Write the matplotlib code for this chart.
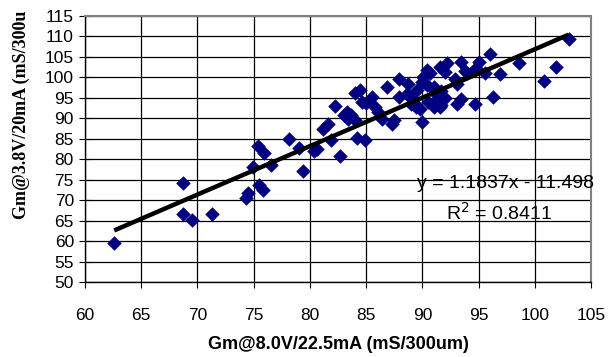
import matplotlib
matplotlib.use("Agg")
import matplotlib.pyplot as plt
import numpy as np

# Gm values (mS/300um)
gm_8v = [62.6, 68.7, 68.7, 69.5, 71.3, 74.3, 74.5, 74.9, 75.5, 75.8,
         75.4, 75.9, 76.5, 78.1, 79.0, 79.4, 80.4, 80.6, 81.2, 81.6,
         81.9, 82.2, 82.7, 83.0, 83.3, 83.4, 83.7, 84.0, 84.0, 84.5,
         84.6, 84.2, 84.9, 85.5, 85.8, 86.1, 86.4, 87.3, 87.5, 86.9,
         87.9, 88.7, 87.9, 88.9, 89.2, 89.4, 89.8, 90.0, 89.5, 90.1,
         90.4, 90.7, 90.4, 91.0, 90.0, 91.0, 91.3, 91.3, 91.7, 90.5,
         91.6, 91.1, 91.0, 91.6, 92.0, 92.2, 91.7, 92.9, 93.1, 93.4,
         93.8, 93.4, 93.1, 94.0, 94.7, 95.0, 94.8, 95.6, 96.0, 96.3,
         96.9, 98.6, 100.8, 101.9, 103.0, 92.0, 89.0, 85.0, 88.6]
gm_3v8 = [59.5, 74.2, 66.6, 65.2, 66.6, 70.5, 71.8, 78.2, 73.6, 72.5,
          83.3, 81.6, 78.5, 85.0, 82.8, 77.2, 81.9, 82.5, 87.5, 88.6,
          84.8, 93.1, 80.9, 90.7, 91.5, 89.9, 90.7, 89.5, 96.1, 97.0,
          94.0, 85.2, 84.6, 95.2, 92.8, 91.5, 89.9, 88.7, 89.5, 97.6,
          99.6, 98.5, 95.2, 95.2, 94.0, 92.8, 92.3, 89.1, 96.9, 100.1,
          101.8, 101.0, 98.1, 96.9, 98.9, 97.7, 95.6, 94.4, 93.2, 94.0,
          92.8, 94.0, 92.8, 102.6, 101.3, 103.4, 96.7, 99.7, 98.5, 103.8,
          101.6, 94.8, 93.4, 101.0, 93.6, 103.8, 102.4, 101.0, 105.6, 95.2,
          100.9, 103.4, 99.1, 102.6, 109.5, 95.0, 93.5, 93.8, 96.0]

slope = 1.1837
intercept = -11.498
r_squared = 0.8411

x_ticks = list(range(60, 106, 5))
y_ticks = list(range(50, 116, 5))

plt.rcParams['font.family'] = 'Liberation Sans'

fig = plt.figure(figsize=(6.08, 3.57), dpi=100)
ax = fig.add_axes([85/608, 1-282/357, 506/608, 266/357])

ax.set_xlim(60, 105)
ax.set_ylim(50, 115)
ax.set_xticks(x_ticks)
ax.set_yticks(y_ticks)
ax.grid(True, color='black', linewidth=0.9)
ax.set_axisbelow(True)

ax.scatter(gm_8v, gm_3v8, marker='D', s=55, color='#000080', zorder=3, linewidths=0)

# trendline over the data range
xs = np.array([min(gm_8v), max(gm_8v)])
ax.plot(xs, slope*xs + intercept, color='black', linewidth=3.2, zorder=4,
        solid_capstyle='butt')

ax.text(97.4, 74.0, "y = %.4fx - %.3f" % (slope, -intercept), ha='center', va='center',
        fontsize=14, clip_on=False, zorder=5)
ax.text(96.8, 66.8, "R$^2$ = %.4f" % r_squared, ha='center', va='center',
        fontsize=14, clip_on=False, zorder=5)

for s in ['top', 'right']:
    ax.spines[s].set_color('#808080')
    ax.spines[s].set_linewidth(1.5)
for s in ['left', 'bottom']:
    ax.spines[s].set_color('black')
    ax.spines[s].set_linewidth(1.0)

ax.tick_params(axis='x', direction='out', length=4, pad=15, labelsize=12.5)
ax.tick_params(axis='y', direction='inout', length=8, pad=4, labelsize=12.5)

ax.set_xlabel("Gm@8.0V/22.5mA (mS/300um)", fontsize=13, fontweight='bold', labelpad=9)
fig.text(21/608, 1-219/357, "Gm@3.8V/20mA (mS/300u", rotation=90, ha='center', va='bottom',
         fontsize=13, fontweight='bold', family='Liberation Serif')

fig.savefig("out.png", dpi=100)
